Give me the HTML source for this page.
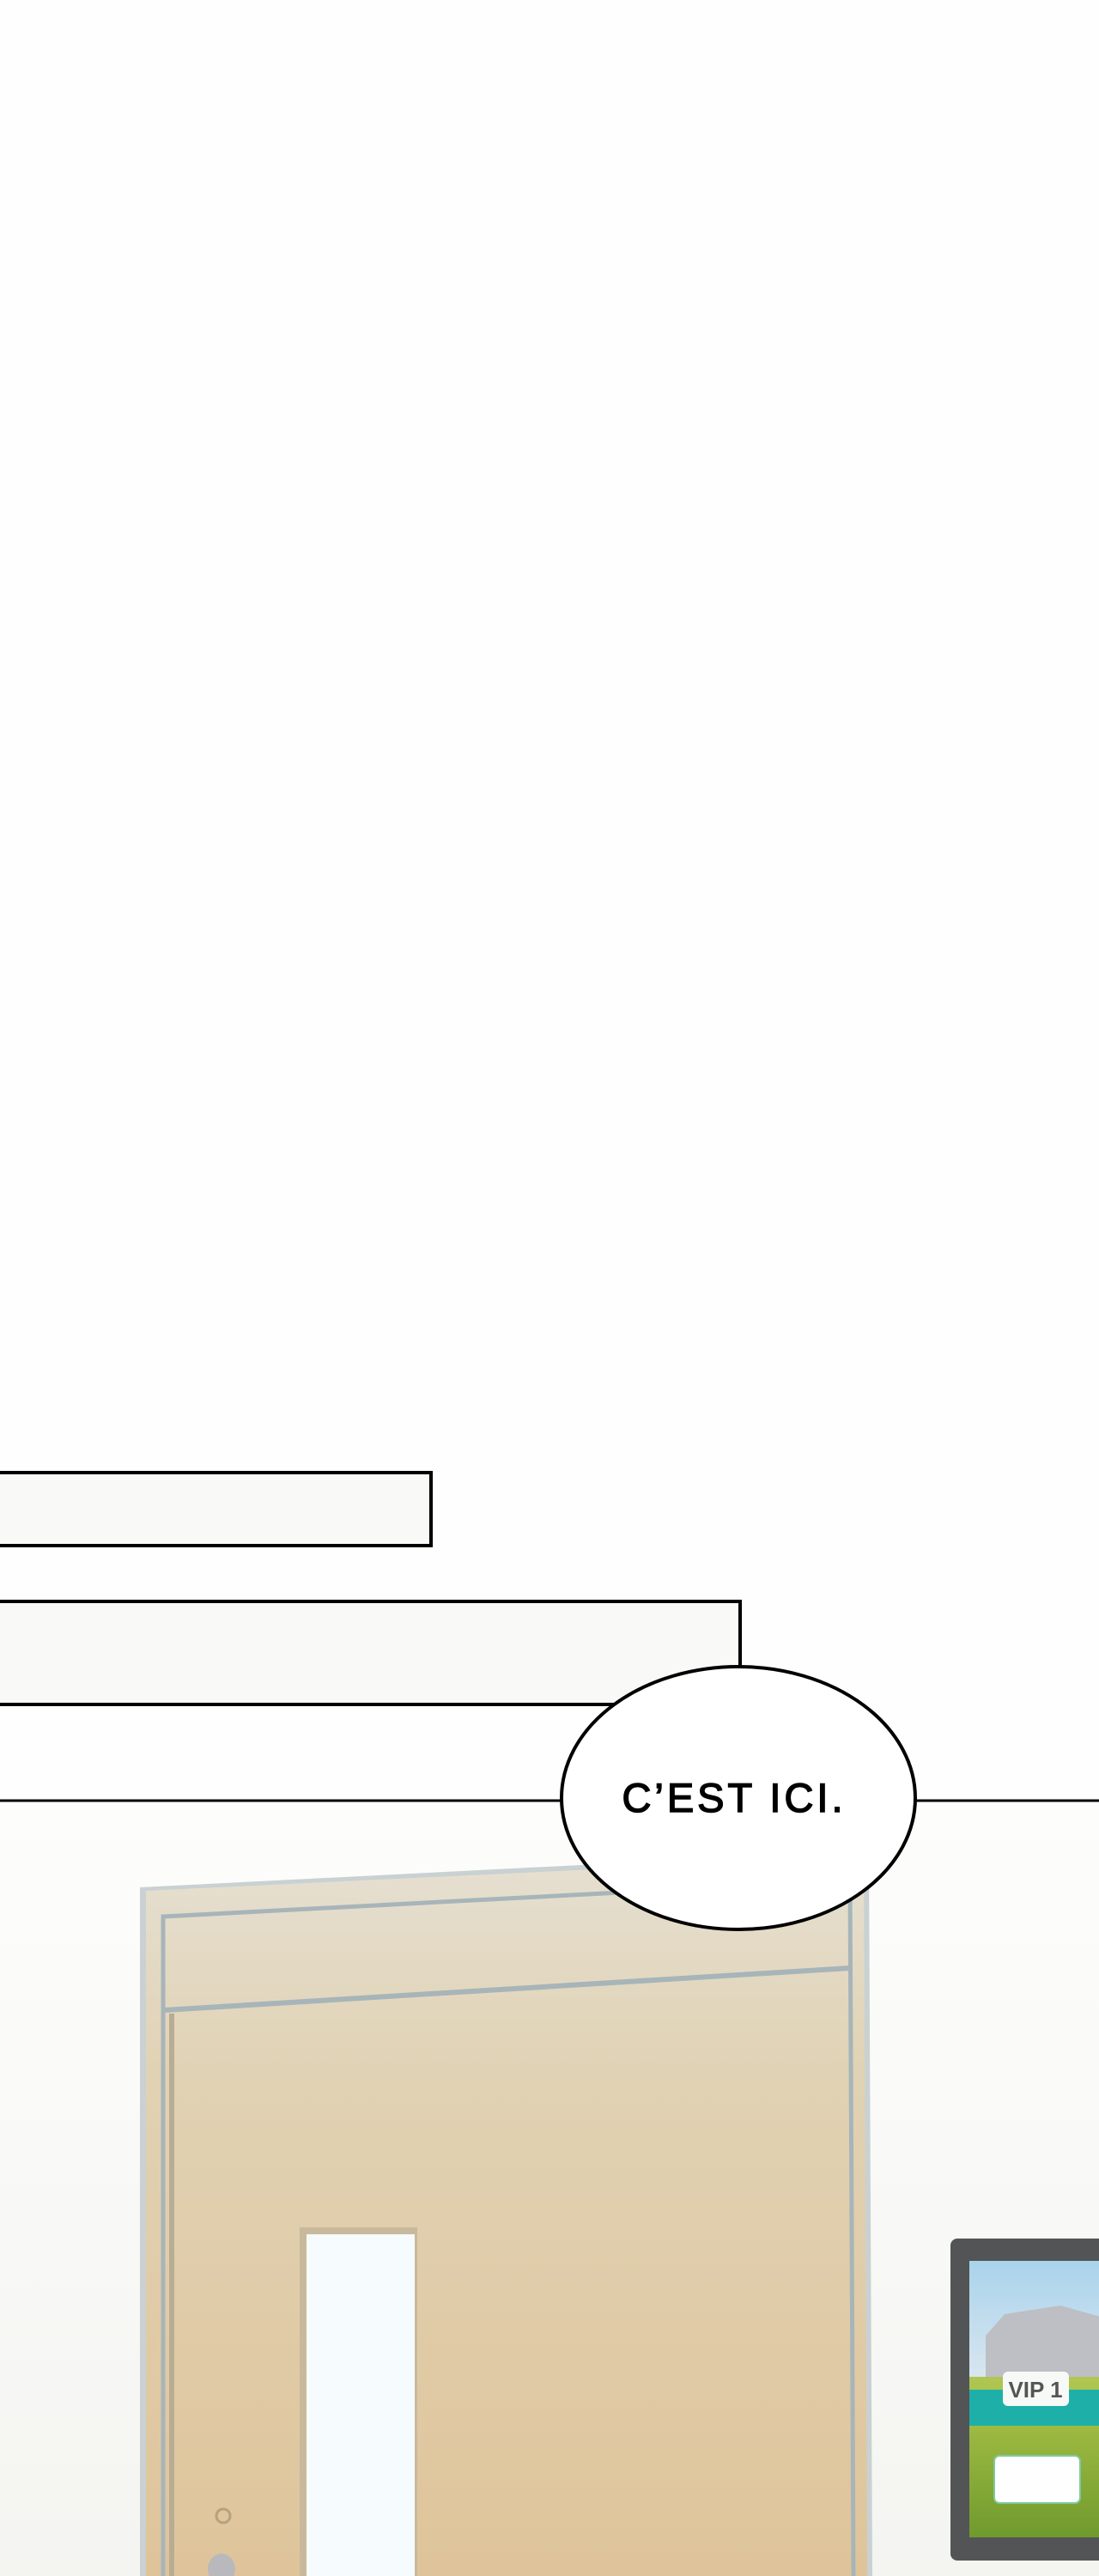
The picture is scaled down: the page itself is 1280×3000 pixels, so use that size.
<!DOCTYPE html>
<html><head><meta charset="utf-8"><style>
html,body{margin:0;padding:0;background:#fefefe;}
body{width:1280px;height:3000px;overflow:hidden;position:relative;}
svg{position:absolute;left:0;top:0;}
</style></head><body>
<svg width="1280" height="3000" viewBox="0 0 1280 3000" xmlns="http://www.w3.org/2000/svg">
<defs>
<linearGradient id="wood" x1="0" y1="0" x2="0" y2="1">
<stop offset="0" stop-color="#e6e0d2"/><stop offset="0.3" stop-color="#e0d2b4"/><stop offset="1" stop-color="#dfc49a"/>
</linearGradient>
<linearGradient id="sky" x1="0" y1="0" x2="0" y2="1">
<stop offset="0" stop-color="#a9d3ec"/><stop offset="1" stop-color="#d8e6ee"/>
</linearGradient>
<linearGradient id="grass" x1="0" y1="0" x2="0" y2="1">
<stop offset="0" stop-color="#d9d7a0"/><stop offset="0.5" stop-color="#a9c246"/><stop offset="1" stop-color="#6f9a2e"/>
</linearGradient>
<linearGradient id="wall" x1="0" y1="0" x2="0" y2="1">
<stop offset="0" stop-color="#fdfdfc"/><stop offset="1" stop-color="#f4f4f1"/>
</linearGradient>
</defs>
<rect x="0" y="2097" width="1280" height="903" fill="url(#wall)"/>
<!-- door -->
<polygon points="163,2198 1012,2155 1016,3000 163,3000" fill="#c9d1d2"/>
<polygon points="170,2202 1006,2162 1010,3000 170,3000" fill="url(#wood)"/>
<polyline points="190,3000 190,2232 990,2190 994,3000" fill="none" stroke="#a7b5b9" stroke-width="5"/>
<line x1="192" y1="2341" x2="990" y2="2292" stroke="#a7b5b9" stroke-width="6"/>
<line x1="200" y1="2345" x2="200" y2="3000" stroke="#b8ad94" stroke-width="6"/>
<!-- window -->
<rect x="349" y="2594" width="137" height="410" fill="#c9b99c"/>
<rect x="357" y="2602" width="126" height="400" fill="#f6fbfd"/>
<circle cx="260" cy="2930" r="8" fill="none" stroke="#b5a27f" stroke-width="3"/>
<ellipse cx="258" cy="2992" rx="16" ry="18" fill="#b9b9bd"/>
<!-- monitor -->
<rect x="1107" y="2607" width="180" height="375" rx="8" fill="#525456"/>
<rect x="1129" y="2633" width="160" height="322" fill="url(#grass)"/>
<rect x="1129" y="2633" width="160" height="135" fill="url(#sky)"/>
<polygon points="1148,2720 1170,2695 1235,2685 1289,2700 1289,2768 1148,2768" fill="#bdbfc5"/>
<rect x="1129" y="2783" width="160" height="42" fill="#1eb0a8"/>
<rect x="1168" y="2762" width="77" height="40" rx="6" fill="#f7f9f7"/>
<text x="1206" y="2792" font-family="Liberation Sans, sans-serif" font-weight="bold" font-size="26" fill="#555" text-anchor="middle">VIP 1</text>
<rect x="1158" y="2860" width="100" height="55" rx="6" fill="#fdfefd" stroke="#7fc9a0" stroke-width="2"/>
<!-- boxes -->
<rect x="-10" y="1715" width="512" height="85" fill="#f9f9f8" stroke="#000" stroke-width="4"/>
<rect x="-10" y="1865" width="872" height="120" fill="#f9f9f8" stroke="#000" stroke-width="4"/>
<line x1="0" y1="2097" x2="1280" y2="2097" stroke="#000" stroke-width="3"/>
<!-- bubble -->
<ellipse cx="860" cy="2094" rx="206" ry="153" fill="#fff" stroke="#000" stroke-width="4"/>
<text x="855" y="2110" font-family="Liberation Sans, sans-serif" font-size="47" fill="#000" stroke="#000" stroke-width="1.5" text-anchor="middle" letter-spacing="4">C’EST ICI.</text>
</svg>
</body></html>
